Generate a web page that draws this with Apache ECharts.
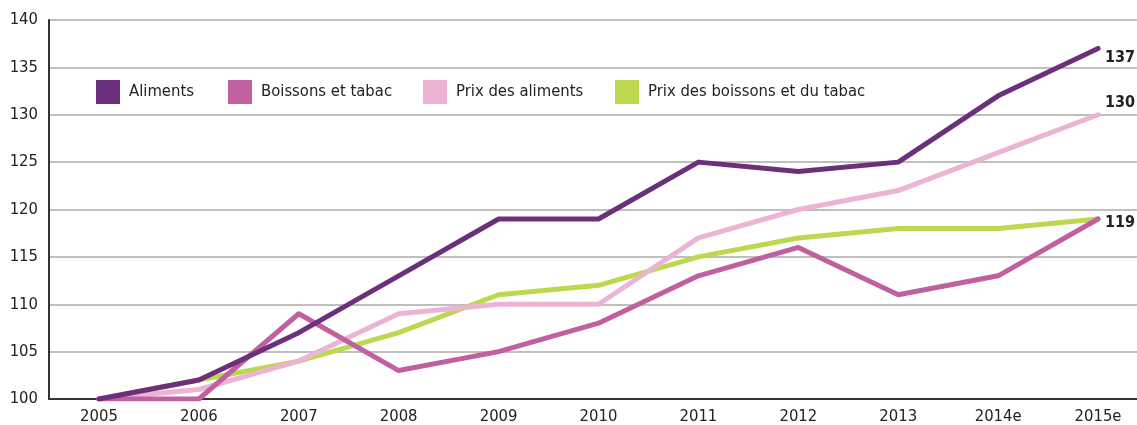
<!DOCTYPE html>
<html>
<head>
<meta charset="utf-8">
<script src="https://cdn.jsdelivr.net/npm/echarts@6/dist/echarts.min.js"></script>
<style>
  html, body { margin: 0; padding: 0; background: #fff; overflow: hidden; }
  #chart { width: 1148px; height: 425px; }
</style>
</head>
<body>
<div id="chart"></div>
<script>
// categories and values (indice base 100 en 2005)
var years = ['2005', '2006', '2007', '2008', '2009', '2010', '2011', '2012', '2013', '2014e', '2015e'];
var aliments = [100, 102, 107, 113, 119, 119, 125, 124, 125, 132, 137];
var boissons = [100, 100, 109, 103, 105, 108, 113, 116, 111, 113, 119];
var prixAliments = [100, 101, 104, 109, 110, 110, 117, 120, 122, 126, 130];
var prixBoissons = [100, 102, 104, 107, 111, 112, 115, 117, 118, 118, 119];

var names = ['Aliments', 'Boissons et tabac', 'Prix des aliments', 'Prix des boissons et du tabac'];
var colors = ['#6c2f7c', '#c060a0', '#ecb4d4', '#bcd84e'];
var legendLeft = [96, 228, 423, 615];

var font = '"DejaVu Sans Condensed", "Liberation Sans Narrow", sans-serif';

// le graphique deborde un peu a droite, comme l'original
var chart = echarts.init(document.getElementById('chart'), null, { renderer: 'canvas' });

// une legende par element pour placer chaque carre comme dans l'original
var legends = [];
for (var i = 0; i < names.length; i++) {
  legends.push({
    data: [names[i]],
    left: legendLeft[i],
    top: 80,
    padding: 0,
    itemWidth: 24,
    itemHeight: 24,
    itemGap: 0,
    icon: 'rect',
    textStyle: { fontFamily: font, fontSize: 16.5, color: '#222', padding: [0, 0, 0, 4] }
  });
}

function makeSeries(idx, values, z, labelOffset) {
  var s = {
    name: names[idx],
    type: 'line',
    data: values,
    symbol: 'none',
    z: z,
    lineStyle: { width: 5, color: colors[idx], cap: 'round', join: 'round' },
    itemStyle: { color: colors[idx] },
    emphasis: { disabled: true }
  };
  if (labelOffset) {
    s.endLabel = {
      show: true,
      fontFamily: font,
      fontWeight: 'bold',
      fontSize: 16,
      color: '#222',
      distance: 7,
      offset: labelOffset
    };
  }
  return s;
}

var option = {
  animation: false,
  color: colors,
  legend: legends,
  grid: { left: 49, right: 0, top: 20, bottom: 26, containLabel: false },
  xAxis: {
    type: 'category',
    data: years,
    boundaryGap: true,
    axisLine: { lineStyle: { color: '#333', width: 2 } },
    axisTick: { show: false },
    axisLabel: { fontFamily: font, fontSize: 16.5, color: '#222', margin: 9 }
  },
  yAxis: {
    type: 'value',
    min: 100,
    max: 140,
    interval: 5,
    axisLine: { show: true, lineStyle: { color: '#333', width: 2 } },
    axisTick: { show: false },
    axisLabel: { fontFamily: font, fontSize: 16.5, color: '#222', margin: 11 },
    splitLine: { lineStyle: { color: '#aaa', width: 1.5 } }
  },
  series: [
    makeSeries(3, prixBoissons, 2, null),
    makeSeries(2, prixAliments, 3, [0, -12]),
    makeSeries(1, boissons, 4, [0, 4]),
    makeSeries(0, aliments, 5, [0, 9])
  ]
};

chart.setOption(option);
</script>
</body>
</html>
